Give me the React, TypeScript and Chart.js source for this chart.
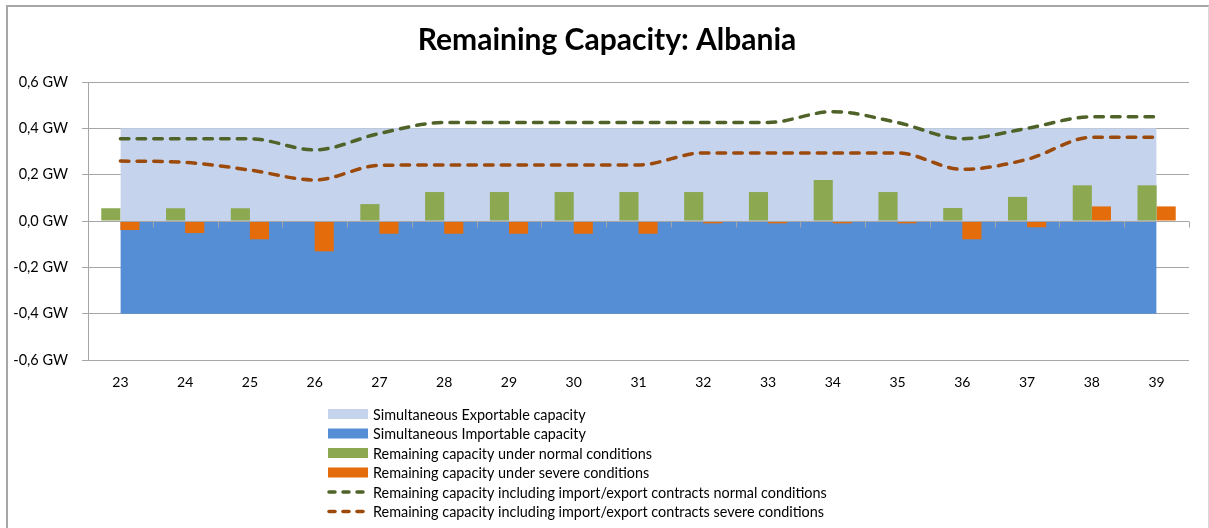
import React, { useEffect, useRef } from 'react';
import { Chart, registerables } from 'chart.js';

Chart.register(...registerables);

const TITLE = 'Remaining Capacity: Albania';

const weeks = ['23', '24', '25', '26', '27', '28', '29', '30', '31', '32', '33', '34', '35', '36', '37', '38', '39'];

const exportable = [0.4, 0.4, 0.4, 0.4, 0.4, 0.4, 0.4, 0.4, 0.4, 0.4, 0.4, 0.4, 0.4, 0.4, 0.4, 0.4, 0.4];
const importable = [-0.4, -0.4, -0.4, -0.4, -0.4, -0.4, -0.4, -0.4, -0.4, -0.4, -0.4, -0.4, -0.4, -0.4, -0.4, -0.4, -0.4];
const normalCond = [0.055, 0.055, 0.055, 0, 0.073, 0.125, 0.125, 0.125, 0.125, 0.125, 0.125, 0.177, 0.125, 0.056, 0.104, 0.154, 0.154];
const severeCond = [-0.039, -0.052, -0.079, -0.131, -0.055, -0.055, -0.055, -0.055, -0.055, -0.01, -0.01, -0.01, -0.01, -0.079, -0.027, 0.063, 0.063];
const contractsNormal = [0.355, 0.355, 0.355, 0.307, 0.378, 0.425, 0.425, 0.425, 0.425, 0.425, 0.425, 0.472, 0.425, 0.355, 0.4, 0.45, 0.45];
const contractsSevere = [0.259, 0.253, 0.22, 0.177, 0.24, 0.242, 0.242, 0.242, 0.242, 0.294, 0.294, 0.294, 0.294, 0.223, 0.266, 0.361, 0.361];

const yMin = -0.6;
const yMax = 0.6;
const yStep = 0.2;

const labels = {
  exportable: 'Simultaneous Exportable capacity',
  importable: 'Simultaneous Importable capacity',
  normal: 'Remaining capacity under normal conditions',
  severe: 'Remaining capacity under severe conditions',
  cNormal: 'Remaining capacity including import/export contracts normal conditions',
  cSevere: 'Remaining capacity including import/export contracts severe conditions',
};

const C = {
  exportable: '#C5D3EC',
  importable: '#558ED5',
  normal: '#8CA851',
  severe: '#E46C0A',
  cNormal: '#4F6228',
  cSevere: '#9C4A0C',
  grid: '#A6A6A6',
  text: '#000000',
};

const FONT = 'Lato';

const decor = {
  id: 'decor',
  afterDraw(chart: any) {
    const ctx = chart.ctx as CanvasRenderingContext2D;
    const { left, right } = chart.chartArea;
    const ys = chart.scales.y;
    const zeroY = Math.round(ys.getPixelForValue(0)) + 0.5;
    ctx.save();

    // zero axis with category tick marks
    ctx.strokeStyle = C.grid;
    ctx.lineWidth = 1;
    ctx.beginPath();
    ctx.moveTo(left, zeroY);
    ctx.lineTo(right, zeroY);
    ctx.stroke();
    const n = weeks.length;
    for (let k = 1; k <= n; k++) {
      const x = Math.round(left + (k * (right - left)) / n) + 0.5;
      ctx.beginPath();
      ctx.moveTo(x, zeroY);
      ctx.lineTo(x, zeroY + 6);
      ctx.stroke();
    }

    // title
    ctx.fillStyle = C.text;
    ctx.font = `bold 30px ${FONT}`;
    ctx.textAlign = 'center';
    ctx.textBaseline = 'middle';
    ctx.fillText(TITLE, 607, 40);

    // legend
    const ds = chart.data.datasets;
    const order = [0, 1, 2, 3, 4, 5];
    ctx.font = `14.4px ${FONT}`;
    ctx.textAlign = 'left';
    order.forEach((idx, i) => {
      const d = ds[idx];
      const cy = 414 + i * 19.5;
      if (d.legendKind === 'box') {
        ctx.fillStyle = d.legendColor;
        ctx.fillRect(328, cy - 5, 40, 10);
      } else {
        ctx.strokeStyle = d.borderColor;
        ctx.lineWidth = 3.5;
        ctx.lineCap = 'round';
        [[329, 335], [343, 349], [357, 363]].forEach(([a, b]) => {
          ctx.beginPath();
          ctx.moveTo(a, cy);
          ctx.lineTo(b, cy);
          ctx.stroke();
        });
      }
      ctx.fillStyle = C.text;
      ctx.fillText(d.label, 373, cy + 1);
    });

    // chart frame
    ctx.lineCap = 'butt';
    ctx.strokeStyle = C.grid;
    ctx.lineWidth = 2;
    ctx.beginPath();
    ctx.moveTo(7, 600);
    ctx.lineTo(7, 6);
    ctx.lineTo(1209, 6);
    ctx.stroke();
    ctx.strokeStyle = '#D9D9D9';
    ctx.lineWidth = 1;
    ctx.beginPath();
    ctx.moveTo(1208.5, 6);
    ctx.lineTo(1208.5, 528);
    ctx.stroke();
    ctx.restore();
  },
};

export default function App() {
  const ref = useRef<HTMLCanvasElement | null>(null);

  useEffect(() => {
    if (!ref.current) return;
    const dash = [8.5, 8.2];
    const chart = new Chart(ref.current, {
      type: 'bar',
      data: {
        labels: weeks,
        datasets: [
          {
            type: 'line',
            label: labels.exportable,
            data: exportable,
            backgroundColor: C.exportable,
            borderWidth: 0,
            pointRadius: 0,
            fill: 'origin',
            order: 3,
            legendKind: 'box',
            legendColor: C.exportable,
          } as any,
          {
            type: 'line',
            label: labels.importable,
            data: importable,
            backgroundColor: C.importable,
            borderWidth: 0,
            pointRadius: 0,
            fill: 'origin',
            order: 3,
            legendKind: 'box',
            legendColor: C.importable,
          } as any,
          {
            type: 'bar',
            label: labels.normal,
            data: normalCond,
            backgroundColor: C.normal,
            borderWidth: 0,
            categoryPercentage: 0.59,
            barPercentage: 1,
            order: 2,
            legendKind: 'box',
            legendColor: C.normal,
          } as any,
          {
            type: 'bar',
            label: labels.severe,
            data: severeCond,
            backgroundColor: C.severe,
            borderWidth: 0,
            categoryPercentage: 0.59,
            barPercentage: 1,
            order: 2,
            legendKind: 'box',
            legendColor: C.severe,
          } as any,
          {
            type: 'line',
            label: labels.cNormal,
            data: contractsNormal,
            borderColor: C.cNormal,
            borderWidth: 3.5,
            borderDash: dash,
            borderCapStyle: 'round',
            pointRadius: 0,
            fill: false,
            cubicInterpolationMode: 'monotone',
            order: 1,
            legendKind: 'line',
          } as any,
          {
            type: 'line',
            label: labels.cSevere,
            data: contractsSevere,
            borderColor: C.cSevere,
            borderWidth: 3.5,
            borderDash: dash,
            borderCapStyle: 'round',
            pointRadius: 0,
            fill: false,
            cubicInterpolationMode: 'monotone',
            order: 1,
            legendKind: 'line',
          } as any,
        ],
      },
      options: {
        animation: false,
        responsive: true,
        maintainAspectRatio: false,
        events: [],
        layout: { padding: { top: 82, right: 20, left: 0, bottom: 0 } },
        plugins: {
          legend: { display: false },
          title: { display: false },
          tooltip: { enabled: false },
        },
        scales: {
          x: {
            offset: true,
            grid: { display: false, drawTicks: false },
            border: { display: false },
            ticks: { font: { family: FONT, size: 14 }, color: C.text, padding: 14, maxRotation: 0 },
            afterFit(s: any) {
              s.height = 168;
            },
          },
          y: {
            min: yMin,
            max: yMax,
            grid: { color: C.grid, tickLength: 6, tickColor: C.grid, lineWidth: 1 },
            border: { color: C.grid },
            ticks: {
              stepSize: yStep,
              padding: 14,
              color: C.text,
              font: { family: FONT, size: 14.5 },
              callback: (v: any) => (Math.round(Number(v) * 10) / 10).toFixed(1).replace('.', ',') + ' GW',
            },
            afterFit(s: any) {
              s.width = 88;
            },
          },
        },
      },
      plugins: [decor],
    });
    return () => chart.destroy();
  }, []);

  return (
    <div style={{ position: 'fixed', left: 0, top: 0, width: 1209, height: 528, background: '#fff' }}>
      <canvas ref={ref} />
    </div>
  );
}
